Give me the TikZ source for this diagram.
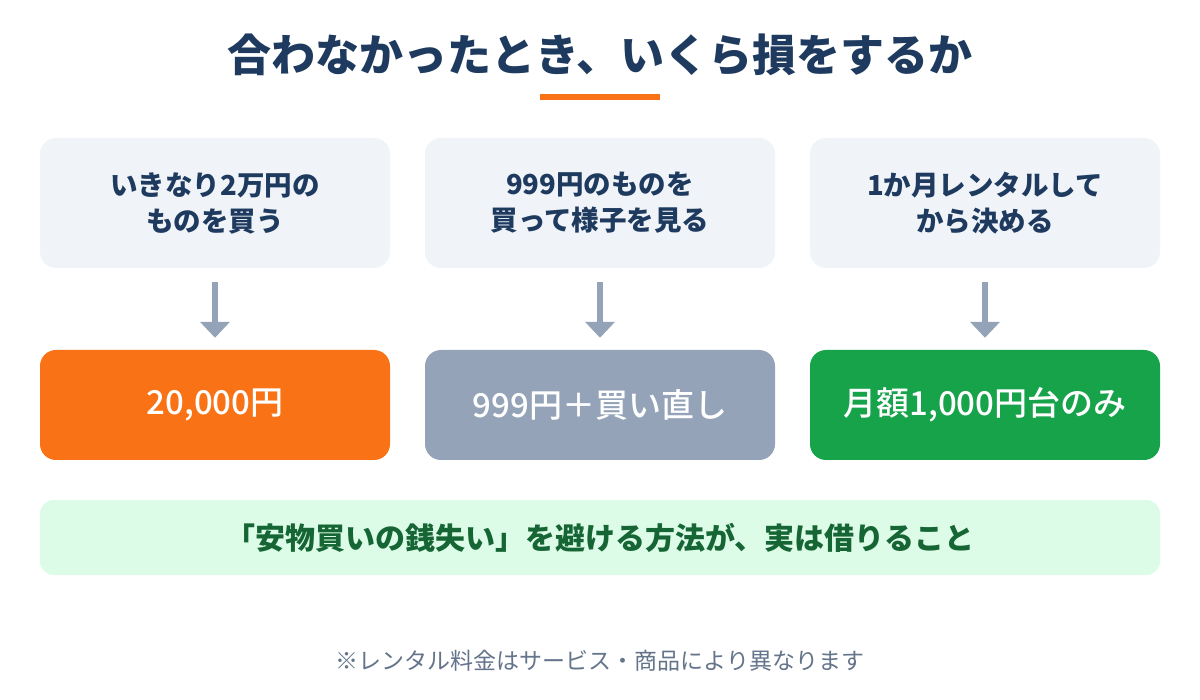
\documentclass[tikz,border=0pt]{standalone}
\usepackage{fontspec}
\setmainfont{Noto Sans CJK JP}
\newfontfamily\jpmed{Noto Sans CJK JP Medium}
\usetikzlibrary{arrows.meta}
\definecolor{navy}{HTML}{1E3A5F}
\definecolor{lightbox}{HTML}{F0F4F9}
\definecolor{slate}{HTML}{94A3B8}
\definecolor{orng}{HTML}{F97316}
\definecolor{grn}{HTML}{16A34A}
\definecolor{bannerbg}{HTML}{DCFCE7}
\definecolor{bannertx}{HTML}{166534}
\definecolor{foot}{HTML}{64748B}
\tikzset{
  topbox/.style={fill=lightbox, rounded corners=16pt, minimum width=350pt, minimum height=130pt, inner sep=0pt, align=center, text=navy, font=\fontsize{27.5}{36}\selectfont\bfseries},
  resbox/.style={rounded corners=16pt, minimum width=350pt, minimum height=110pt, inner sep=0pt, text=white, font=\jpmed\fontsize{33}{36}\selectfont},
  flowarrow/.style={draw=slate, line width=6.5pt, -{Triangle[width=29pt,length=16pt]}, shorten <=14pt, shorten >=12pt},
}
\begin{document}
\begin{tikzpicture}[x=1pt,y=-1pt]
\useasboundingbox (0,0) rectangle (1200,700);
\fill[white] (0,0) rectangle (1200,700);
\node[text=navy, font=\fontsize{44}{48}\selectfont\bfseries] (title) at (600,55) {合わなかったとき、いくら損をするか};
\fill[orng] (540,94) rectangle (660,100);
\node[topbox] (t1) at (215,203) {いきなり2万円の\\ものを買う};
\node[topbox] (t2) at (600,203) {999円のものを\\買って様子を見る};
\node[topbox] (t3) at (985,203) {1か月レンタルして\\から決める};
\node[resbox, fill=orng] (r1) at (215,405) {20,000円};
\node[resbox, fill=slate] (r2) at (600,405) {999円＋買い直し};
\node[resbox, fill=grn] (r3) at (985,405) {月額1,000円台のみ};
\draw[flowarrow] (t1.south) -- (r1.north);
\draw[flowarrow] (t2.south) -- (r2.north);
\draw[flowarrow] (t3.south) -- (r3.north);
\node[fill=bannerbg, rounded corners=14pt, minimum width=1120pt, minimum height=75pt, inner sep=0pt, text=bannertx, font=\fontsize{30}{32}\selectfont\bfseries] (banner) at (600,537.5) {「安物買いの銭失い」を避ける方法が、実は借りること};
\node[text=foot, font=\fontsize{23}{26}\selectfont] (note) at (600,661) {※レンタル料金はサービス・商品により異なります};
\end{tikzpicture}
\end{document}
